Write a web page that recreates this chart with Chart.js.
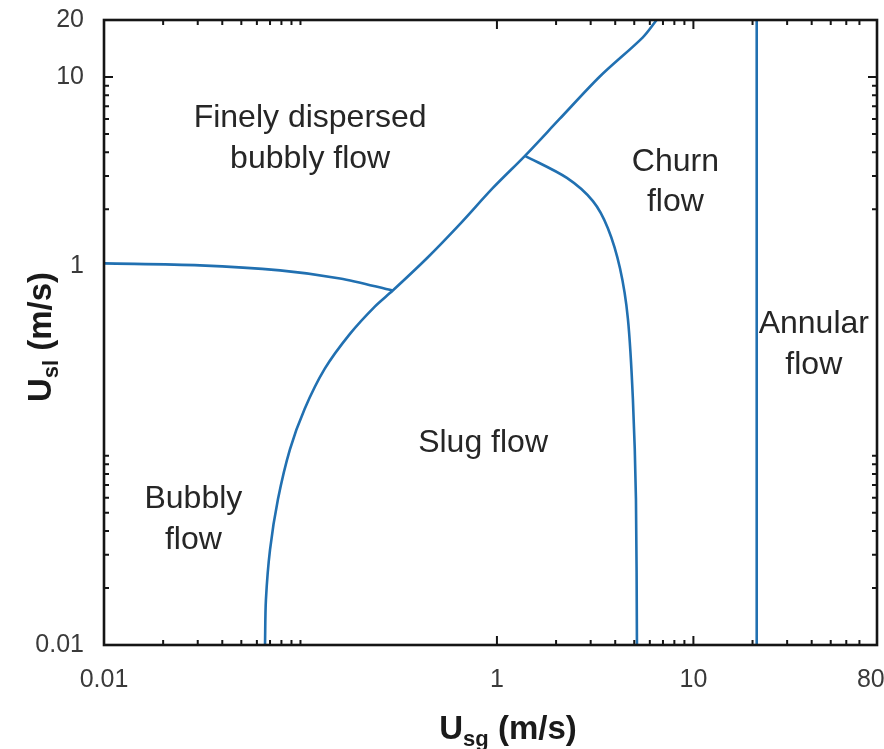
<!DOCTYPE html>
<html>
<head>
<meta charset="utf-8">
<script src="https://cdn.jsdelivr.net/npm/chart.js@4/dist/chart.umd.min.js"></script>
<style>
  html, body { margin: 0; padding: 0; background: #fff; }
  #wrap { width: 884px; height: 749px; }
</style>
</head>
<body>
<div id="wrap"><canvas id="map"></canvas></div>
<script>
// flow pattern map, log-log, boundaries

// bubbly / slug boundary, continuing as the dispersed-bubble boundary
const bubblySlugX = [0.066, 0.0667, 0.070, 0.0768, 0.0884, 0.105, 0.133, 0.179, 0.239, 0.295, 0.44, 0.648, 0.954, 1.389, 2.09, 3.34, 5.53, 6.5];
const bubblySlugY = [0.01, 0.0173, 0.0319, 0.0588, 0.108, 0.1765, 0.288, 0.441, 0.613, 0.745, 1.103, 1.671, 2.594, 3.834, 6.02, 10.06, 16.2, 20];

// bubbly / finely dispersed boundary
const bubblyDispX = [0.01, 0.0308, 0.0787, 0.159, 0.295];
const bubblyDispY = [1.037, 1.012, 0.952, 0.863, 0.745];

// slug / churn boundary
const slugChurnX = [1.389, 2.27, 3.08, 3.67, 4.23, 4.64, 4.92, 5.10, 5.16];
const slugChurnY = [3.834, 2.93, 2.21, 1.59, 0.976, 0.53, 0.1994, 0.0588, 0.01];

// churn / annular boundary
const churnAnnularX = [21, 21];
const churnAnnularY = [0.01, 20];

// tick labels
const xTickLabels = [0.01, 1, 10, 80];
const yTickLabels = [0.01, 1, 10, 20];

// inner minor / major tick marks
const xMinorTicks = [0.02, 0.03, 0.04, 0.05, 0.06, 0.07, 0.08, 0.09, 0.1, 2, 3, 4, 5, 6, 7, 8, 9, 20, 30, 40, 50, 60, 70];
const xMajorTicks = [1, 10];
const yMinorTicks = [0.02, 0.03, 0.04, 0.05, 0.06, 0.07, 0.08, 0.09, 0.1, 2, 3, 4, 5, 6, 7, 8, 9];
const yMajorTicks = [10];

// region names, placed at data coordinates
const regionNames = [
  { text: 'Finely dispersed', x: 0.112, y: 6.4 },
  { text: 'bubbly flow', x: 0.112, y: 3.88 },
  { text: 'Churn', x: 8.1, y: 3.74 },
  { text: 'flow', x: 8.1, y: 2.30 },
  { text: 'Annular', x: 41, y: 0.517 },
  { text: 'flow', x: 41, y: 0.317 },
  { text: 'Slug flow', x: 0.85, y: 0.122 },
  { text: 'Bubbly', x: 0.0285, y: 0.0618 },
  { text: 'flow', x: 0.0285, y: 0.0374 }
];

const lineColor = '#2170b1';
const font = '"Liberation Sans", Arial, Helvetica, sans-serif';

function toPoints(xs, ys) {
  return xs.map((x, i) => ({ x: x, y: ys[i] }));
}

function boundary(xs, ys, tension) {
  return {
    data: toPoints(xs, ys),
    showLine: true,
    borderColor: lineColor,
    borderWidth: 2.6,
    pointRadius: 0,
    tension: tension,
    fill: false
  };
}

// draws "U" + subscript + " (m/s)" centred on (0,0)
function drawAxisTitle(ctx, sub) {
  const mainFont = 'bold 33px ' + font;
  const subFont = 'bold 22px ' + font;
  ctx.font = mainFont;
  const wU = ctx.measureText('U').width;
  const wRest = ctx.measureText(' (m/s)').width;
  ctx.font = subFont;
  const wSub = ctx.measureText(sub).width;
  const total = wU + wSub + wRest;
  let x = -total / 2;
  ctx.textAlign = 'left';
  ctx.textBaseline = 'alphabetic';
  ctx.font = mainFont;
  ctx.fillText('U', x, 0);
  x += wU;
  ctx.font = subFont;
  ctx.fillText(sub, x, 7);
  x += wSub;
  ctx.font = mainFont;
  ctx.fillText(' (m/s)', x, 0);
}

const decorations = {
  id: 'decorations',
  afterDraw(chart) {
    const ctx = chart.ctx;
    const area = chart.chartArea;
    const xs = chart.scales.x;
    const ys = chart.scales.y;

    ctx.save();

    // region names
    ctx.fillStyle = '#262626';
    ctx.font = '32px ' + font;
    ctx.textAlign = 'center';
    ctx.textBaseline = 'middle';
    regionNames.forEach(r => {
      ctx.fillText(r.text, xs.getPixelForValue(r.x), ys.getPixelForValue(r.y) + 4);
    });

    // frame
    ctx.strokeStyle = '#151515';
    ctx.lineWidth = 2.6;
    ctx.strokeRect(area.left, area.top, area.right - area.left, area.bottom - area.top);

    // inward ticks on all four sides
    ctx.lineWidth = 2;
    const tickX = (v, len) => {
      const p = xs.getPixelForValue(v);
      ctx.beginPath();
      ctx.moveTo(p, area.bottom); ctx.lineTo(p, area.bottom - len);
      ctx.moveTo(p, area.top); ctx.lineTo(p, area.top + len);
      ctx.stroke();
    };
    const tickY = (v, len) => {
      const p = ys.getPixelForValue(v);
      ctx.beginPath();
      ctx.moveTo(area.left, p); ctx.lineTo(area.left + len, p);
      ctx.moveTo(area.right, p); ctx.lineTo(area.right - len, p);
      ctx.stroke();
    };
    xMinorTicks.forEach(v => tickX(v, 5));
    xMajorTicks.forEach(v => tickX(v, 9));
    yMinorTicks.forEach(v => tickY(v, 5));
    yMajorTicks.forEach(v => tickY(v, 9));

    // axis titles
    ctx.fillStyle = '#1a1a1a';
    ctx.save();
    ctx.translate(508, 739);
    drawAxisTitle(ctx, 'sg');
    ctx.restore();

    ctx.save();
    ctx.translate(51, 337);
    ctx.rotate(-Math.PI / 2);
    drawAxisTitle(ctx, 'sl');
    ctx.restore();

    ctx.restore();
  }
};

new Chart(document.getElementById('map').getContext('2d'), {
  type: 'scatter',
  data: {
    datasets: [
      boundary(bubblySlugX, bubblySlugY, 0.3),
      boundary(bubblyDispX, bubblyDispY, 0.3),
      boundary(slugChurnX, slugChurnY, 0.3),
      boundary(churnAnnularX, churnAnnularY, 0)
    ]
  },
  options: {
    responsive: true,
    maintainAspectRatio: false,
    animation: false,
    layout: { padding: { top: 20, right: 7, left: 0, bottom: 0 } },
    plugins: {
      legend: { display: false },
      tooltip: { enabled: false }
    },
    scales: {
      x: {
        type: 'logarithmic',
        position: 'bottom',
        min: 0.01,
        max: 86,
        grid: { display: false, drawTicks: false },
        border: { display: false },
        ticks: {
          color: '#3a3a3a',
          font: { family: font, size: 25 },
          padding: 20,
          maxRotation: 0,
          autoSkip: false,
          callback: v => String(v)
        },
        afterBuildTicks: s => { s.ticks = xTickLabels.map(v => ({ value: v })); },
        afterFit: s => { s.height = 104; s.paddingLeft = 0; s.paddingRight = 0; }
      },
      y: {
        type: 'logarithmic',
        position: 'left',
        min: 0.01,
        max: 20,
        grid: { display: false, drawTicks: false },
        border: { display: false },
        ticks: {
          color: '#3a3a3a',
          font: { family: font, size: 25 },
          padding: 20,
          autoSkip: false,
          callback: v => String(v)
        },
        afterBuildTicks: s => { s.ticks = yTickLabels.map(v => ({ value: v })); },
        afterFit: s => { s.width = 104; s.paddingTop = 0; s.paddingBottom = 0; }
      }
    }
  },
  plugins: [decorations]
});
</script>
</body>
</html>
